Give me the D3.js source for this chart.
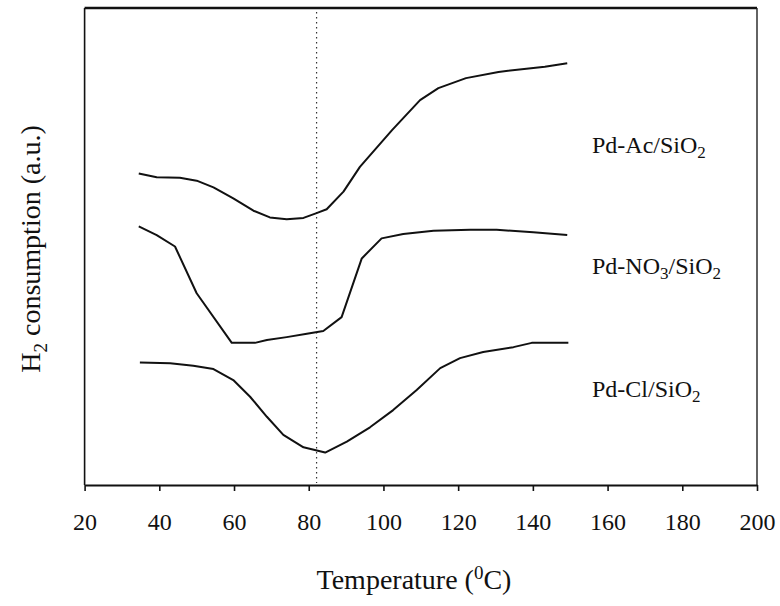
<!DOCTYPE html>
<html>
<head>
<meta charset="utf-8">
<script src="https://cdn.jsdelivr.net/npm/d3@7"></script>
<style>
  body { margin: 0; background: #fff; }
  svg text { font-family: "Liberation Serif", "Times New Roman", serif; fill: #111; }
</style>
</head>
<body>
<svg id="chart" width="780" height="606"></svg>
<script>
// temperature (C) and H2 consumption (a.u.)
var acTemp = [34.5, 39.3, 45.5, 50, 54.5, 59.8, 65.2, 69.6, 74.1, 78.6, 82.1, 84.8, 89.3, 93.7, 102.3, 104.8, 109.8, 114.7, 122.1, 130.8, 143.2, 149.2];
var acVal  = [65.3, 64.5, 64.4, 63.8, 62.4, 60.1, 57.5, 56.1, 55.7, 56.0, 57.0, 57.8, 61.5, 66.7, 74.4, 76.5, 80.7, 83.2, 85.3, 86.6, 87.7, 88.4];

var no3Temp = [34.5, 39.3, 44.2, 50, 59.4, 65.6, 68.8, 74.1, 79.5, 83.9, 88.8, 94.2, 99.5, 105.3, 113.4, 123.2, 130.3, 140.1, 149.2];
var no3Val  = [54.2, 52.4, 50.0, 40.2, 29.8, 29.8, 30.4, 31.0, 31.7, 32.3, 35.2, 47.5, 51.7, 52.6, 53.3, 53.5, 53.5, 53.0, 52.4];

var clTemp = [34.8, 42.9, 49.1, 54.5, 59.8, 64.3, 68.8, 73.2, 78.6, 84.4, 90.2, 96.4, 102.6, 108.9, 115.2, 120.5, 126.7, 134.8, 139.7, 149.5];
var clVal  = [25.7, 25.5, 25.0, 24.3, 22.0, 18.5, 14.3, 10.5, 7.9, 6.8, 9.1, 12.1, 15.7, 19.9, 24.5, 26.6, 27.9, 28.9, 29.8, 29.8];

var seriesNames = ["Pd-Ac", "Pd-NO3", "Pd-Cl"];
var labelVal = [69.6, 44.2, 18.4];   // label baselines in a.u.
var xTicks = [20, 40, 60, 80, 100, 120, 140, 160, 180, 200];
var markerTemp = 82.1;

var serif = "'Liberation Serif', 'Times New Roman', serif";

var svg = d3.select("#chart");

var x = d3.scaleLinear().domain([20, 200]).range([84.6, 757]);
var y = d3.scaleLinear().domain([0, 100]).range([485, 8]);

var series = [
    { name: seriesNames[0], t: acTemp, v: acVal },
    { name: seriesNames[1], t: no3Temp, v: no3Val },
    { name: seriesNames[2], t: clTemp, v: clVal }
];

// frame
svg.append("line")
    .attr("x1", x(20)).attr("x2", x(200))
    .attr("y1", y(100)).attr("y2", y(100))
    .attr("stroke", "#111").attr("stroke-width", 2.4);
svg.append("line")
    .attr("x1", x(20)).attr("x2", x(20))
    .attr("y1", y(100)).attr("y2", y(0))
    .attr("stroke", "#111").attr("stroke-width", 1.6);
svg.append("line")
    .attr("x1", x(200)).attr("x2", x(200))
    .attr("y1", y(100)).attr("y2", y(0))
    .attr("stroke", "#222").attr("stroke-width", 1.4);

// x axis
var xAxis = svg.append("g")
    .attr("transform", "translate(0," + y(0) + ")")
    .call(d3.axisBottom(x).tickValues(xTicks).tickSize(6).tickSizeOuter(0).tickPadding(22));
xAxis.attr("font-family", serif).attr("font-size", 24);
xAxis.select(".domain").attr("stroke", "#111").attr("stroke-width", 2);
xAxis.selectAll(".tick line").attr("stroke", "#111").attr("stroke-width", 1.6);
xAxis.selectAll(".tick text")
    .style("font-family", serif)
    .style("font-size", "24px")
    .attr("fill", "#111");

// dotted marker
svg.append("line")
    .attr("x1", x(markerTemp)).attr("x2", x(markerTemp))
    .attr("y1", y(100) + 4).attr("y2", y(0) - 2)
    .attr("stroke", "#333").attr("stroke-width", 1.2)
    .attr("stroke-dasharray", "1.5,3.5");

// curves
var line = d3.line()
    .x(function(d) { return x(d[0]); })
    .y(function(d) { return y(d[1]); });

svg.append("g")
    .selectAll("path")
    .data(series)
    .enter().append("path")
    .attr("d", function(d) { return line(d3.zip(d.t, d.v)); })
    .attr("fill", "none")
    .attr("stroke", "#111")
    .attr("stroke-width", 2)
    .attr("stroke-linejoin", "round");

// series labels
var labels = svg.append("g")
    .selectAll("text")
    .data(series)
    .enter().append("text")
    .attr("x", 592)
    .attr("y", function(d, i) { return y(labelVal[i]); })
    .attr("font-size", 24);

labels.each(function(d) {
    var t = d3.select(this);
    if (d.name === "Pd-NO3") {
        t.append("tspan").text("Pd-NO");
        t.append("tspan").attr("font-size", 17).attr("dy", 5).text("3");
        t.append("tspan").attr("dy", -5).text("/SiO");
    } else {
        t.append("tspan").text(d.name + "/SiO");
    }
    t.append("tspan").attr("font-size", 17).attr("dy", 5).text("2");
});

// axis titles
var xTitle = svg.append("text")
    .attr("x", 414)
    .attr("y", 589)
    .attr("text-anchor", "middle")
    .attr("font-size", 28);
xTitle.append("tspan").text("Temperature (");
xTitle.append("tspan").attr("font-size", 19).attr("dy", -10).text("0");
xTitle.append("tspan").attr("dy", 10).text("C)");

var yTitle = svg.append("text")
    .attr("transform", "translate(40," + 249 + ") rotate(-90)")
    .attr("text-anchor", "middle")
    .attr("font-size", 28);
yTitle.append("tspan").text("H");
yTitle.append("tspan").attr("font-size", 19).attr("dy", 7).text("2");
yTitle.append("tspan").attr("dy", -7).text(" consumption (a.u.)");
</script>
</body>
</html>
